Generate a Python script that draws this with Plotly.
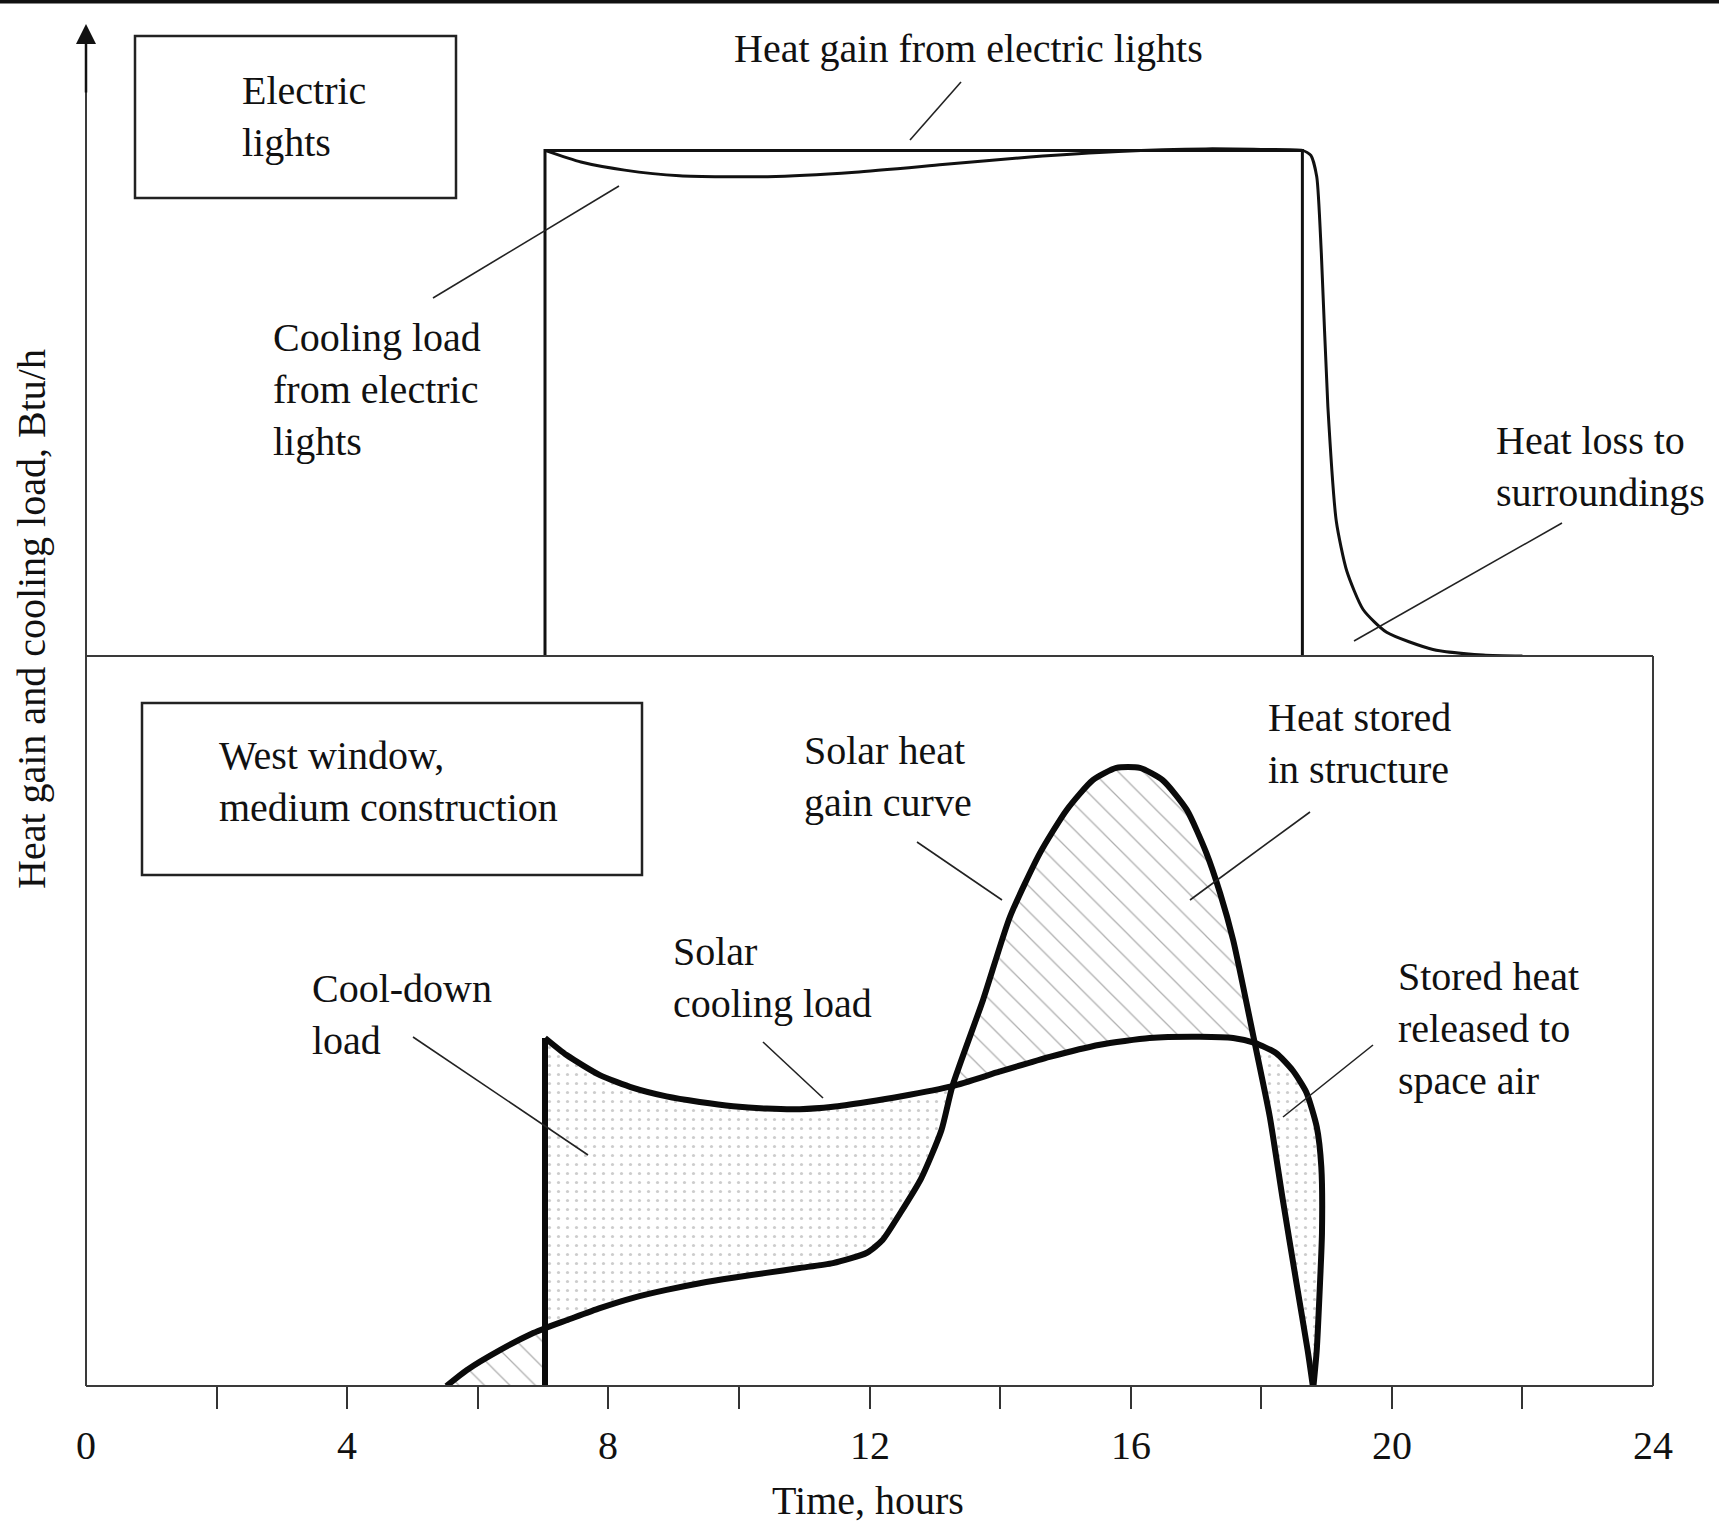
import plotly.graph_objects as go

W, H = 1719, 1525

# ---------------- data (time in hours, loads in relative units) ----------------
tick_hours = [2, 4, 6, 8, 10, 12, 14, 16, 18, 20, 22]
label_hours = [0, 4, 8, 12, 16, 20, 24]
label_text = ["0", "4", "8", "12", "16", "20", "24"]

# lower panel: west window, medium construction
solar_h = [5.52, 5.83, 6.34, 6.85, 7.03, 7.36, 7.87, 8.38, 8.89, 9.40, 9.91, 10.42,
           10.93, 11.44, 11.96, 12.20, 12.47, 12.79, 13.10, 13.27, 13.74, 14.15, 14.61,
           15.02, 15.42, 15.78, 16.14, 16.49, 16.86, 17.16, 17.37, 17.57, 17.90, 18.13,
           18.33, 18.54, 18.71, 18.79]
solar_v = [0, 2.6, 5.9, 8.7, 9.5, 10.8, 12.8, 14.5, 15.8, 16.9, 17.8, 18.6,
           19.4, 20.2, 21.9, 24.0, 28.4, 34.1, 42.0, 49.3, 63.5, 77.1, 87.6,
           94.7, 99.6, 101.6, 101.6, 99.6, 94.7, 87.6, 81.0, 73.3, 56.4, 44.3,
           30.6, 16.9, 5.9, 0]

cool_h = [7.03, 7.36, 7.87, 8.38, 8.89, 9.40, 9.91, 10.42, 10.93, 11.44, 11.96, 12.47,
          13.27, 14.00, 14.76, 15.53, 16.29, 17.06, 17.57, 17.90, 18.23, 18.48, 18.69,
          18.85, 18.92, 18.93, 18.90, 18.85, 18.80]
cool_v = [57.2, 54.4, 51.1, 49.0, 47.6, 46.7, 46.0, 45.6, 45.5, 45.9, 46.7, 47.6,
          49.3, 51.7, 54.1, 56.1, 57.2, 57.4, 57.2, 56.4, 54.7, 51.9, 48.3,
          42.6, 36.0, 25.1, 16.9, 5.9, 0]

cross_1_h = 13.27   # solar gain = cooling load (rising)
cross_2_h = 17.90   # solar gain = cooling load (falling)

# upper panel: electric lights
lights_gain_h = [7.03, 7.03, 18.63, 18.63]
lights_gain_v = [0, 100, 100, 0]
lights_cool_h = [7.03, 7.58, 8.25, 9.09, 10.44, 11.78, 13.12, 14.46, 15.81, 17.15, 18.00,
                 18.63, 18.76, 18.85, 18.92, 19.02, 19.15, 19.31, 19.56, 19.92, 20.63,
                 21.40, 22.00]
lights_cool_v = [100, 97.7, 96.1, 95.0, 94.8, 95.7, 97.2, 98.7, 99.8, 100.3, 100.2,
                 100, 99.0, 94.8, 79.7, 49.4, 26.6, 16.8, 9.2, 4.7, 1.3,
                 0.2, 0]

# ---------------- geometry helpers ----------------
FONT = "Liberation Serif, Times New Roman, serif"
X0, X1 = 86, 1653          # pixel positions of hour 0 and hour 24
Y_BASE, Y_MID, Y_TOP = 1386, 656, 24


def px(x):
    return x / W


def py(y):
    return 1 - y / H


# ---------------- polygons for the shaded regions ----------------
s7 = solar_h.index(cool_h[0])
s1 = solar_h.index(cross_1_h)
s2 = solar_h.index(cross_2_h)
c1 = cool_h.index(cross_1_h)
c2 = cool_h.index(cross_2_h)

cooldown_x = cool_h[:c1 + 1] + solar_h[s7:s1 + 1][::-1]
cooldown_y = cool_v[:c1 + 1] + solar_v[s7:s1 + 1][::-1]
stored_x = solar_h[s1:s2 + 1] + cool_h[c1:c2 + 1][::-1]
stored_y = solar_v[s1:s2 + 1] + cool_v[c1:c2 + 1][::-1]
released_x = cool_h[c2:] + solar_h[s2:][::-1]
released_y = cool_v[c2:] + solar_v[s2:][::-1]
early_x = solar_h[:s7 + 1] + [solar_h[s7]]
early_y = solar_v[:s7 + 1] + [0]

dots = dict(shape=".", fgcolor="#9a9a9a", bgcolor="white", size=9, solidity=0.1)
hatch = dict(shape="\\", fgcolor="#5e5e5e", bgcolor="white", size=18, solidity=0.07)

fig = go.Figure()


def fill_trace(x, y, pattern):
    fig.add_trace(go.Scatter(x=x, y=y, fill="toself", mode="lines",
                             line=dict(width=0, color="rgba(0,0,0,0)"),
                             fillcolor="white", fillpattern=pattern,
                             hoverinfo="skip", xaxis="x", yaxis="y"))


fill_trace(cooldown_x, cooldown_y, dots)
fill_trace(released_x, released_y, dots)
fill_trace(stored_x, stored_y, hatch)
fill_trace(early_x, early_y, hatch)

THICK = dict(color="#0a0a0a", width=6, shape="spline", smoothing=0.6)
fig.add_trace(go.Scatter(x=solar_h, y=solar_v, mode="lines", line=THICK,
                         xaxis="x", yaxis="y", name="Solar heat gain"))
fig.add_trace(go.Scatter(x=cool_h, y=cool_v, mode="lines", line=THICK,
                         xaxis="x", yaxis="y", name="Solar cooling load"))
fig.add_trace(go.Scatter(x=[cool_h[0], cool_h[0]], y=[0, cool_v[0]], mode="lines",
                         line=dict(color="#0a0a0a", width=6),
                         xaxis="x", yaxis="y", name="Cooling load start"))

fig.add_trace(go.Scatter(x=lights_gain_h, y=lights_gain_v, mode="lines",
                         line=dict(color="#111", width=3),
                         xaxis="x", yaxis="y2", name="Heat gain from electric lights"))
fig.add_trace(go.Scatter(x=lights_cool_h, y=lights_cool_v, mode="lines",
                         line=dict(color="#111", width=3, shape="spline", smoothing=0.6),
                         xaxis="x", yaxis="y2", name="Cooling load from electric lights"))

# ---------------- frame, leaders, boxes ----------------
shapes = []
AX = dict(color="#3a3a3a", width=2)
LEAD = dict(color="#222", width=1.6)
BOX = dict(color="#222", width=2.5)


def line(x0, y0, x1, y1, style):
    shapes.append(dict(type="line", xref="paper", yref="paper",
                       x0=px(x0), y0=py(y0), x1=px(x1), y1=py(y1), line=style))


def rect(x0, y0, x1, y1, style):
    shapes.append(dict(type="rect", xref="paper", yref="paper",
                       x0=px(x0), y0=py(y0), x1=px(x1), y1=py(y1), line=style))


# top border of the page
shapes.append(dict(type="rect", xref="paper", yref="paper", x0=0, x1=1,
                   y0=py(3.5), y1=1, line=dict(width=0), fillcolor="#111"))
# axes / lower box
line(X0, Y_BASE, X1, Y_BASE, AX)
line(X0, Y_MID, X1, Y_MID, AX)
line(X1, Y_MID, X1, Y_BASE, AX)
line(X0, Y_BASE, X0, Y_TOP + 20, AX)

# text boxes
rect(135, 36, 456, 198, BOX)
rect(142, 703, 642, 875, BOX)

# leader lines
line(961, 82, 910, 140, LEAD)        # heat gain from electric lights
line(433, 298, 619, 186, LEAD)       # cooling load from electric lights
line(1562, 523, 1354, 641, LEAD)     # heat loss to surroundings
line(917, 842, 1002, 900, LEAD)      # solar heat gain curve
line(1310, 812, 1190, 900, LEAD)     # heat stored in structure
line(763, 1042, 823, 1098, LEAD)     # solar cooling load
line(413, 1037, 588, 1155, LEAD)     # cool-down load
line(1373, 1045, 1283, 1117, LEAD)   # stored heat released

# ---------------- text ----------------
ann = []
TF = dict(family=FONT, size=40, color="#111")


def text(t, x, y, xanchor="left"):
    ann.append(dict(text=t, xref="paper", yref="paper", x=px(x), y=py(y),
                    xanchor=xanchor, yanchor="middle", align="left",
                    showarrow=False, font=TF))


text("Heat gain from electric lights", 732, 49)
text("Electric<br>lights", 240, 116)
text("Cooling load<br>from electric<br>lights", 271, 389)
text("Heat loss to<br>surroundings", 1494, 466)
text("West window,<br>medium construction", 217, 781)
text("Solar heat<br>gain curve", 802, 777)
text("Heat stored<br>in structure", 1266, 743)
text("Solar<br>cooling load", 671, 977)
text("Cool-down<br>load", 310, 1014)
text("Stored heat<br>released to<br>space air", 1396, 1028)
text("Time, hours", 868, 1500, xanchor="center")

for hval, lab in zip(label_hours, label_text):
    ann.append(dict(text=lab, xref="x", yref="paper", x=hval, y=py(1445),
                    xanchor="center", yanchor="middle", showarrow=False, font=TF))

ann.append(dict(text="Heat gain and cooling load, Btu/h", xref="paper", yref="paper",
                x=px(31), y=py(619), textangle=-90, xanchor="center", yanchor="middle",
                showarrow=False, font=TF))

# arrow head on the vertical axis
ann.append(dict(text="", xref="paper", yref="paper", x=px(X0), y=py(Y_TOP),
                ax=0, ay=70, showarrow=True, arrowhead=2, arrowsize=1.6,
                arrowwidth=2.5, arrowcolor="#111"))

fig.update_layout(
    width=W, height=H,
    margin=dict(l=0, r=0, t=0, b=0),
    paper_bgcolor="white", plot_bgcolor="white",
    showlegend=False,
    shapes=shapes, annotations=ann,
    xaxis=dict(domain=[px(X0), px(X1)], range=[0, 24], tickvals=tick_hours,
               showticklabels=False, ticks="outside", ticklen=22, tickwidth=2,
               tickcolor="#333", showgrid=False, zeroline=False, showline=False,
               anchor="y", automargin=False, fixedrange=True),
    yaxis=dict(domain=[py(Y_BASE), py(Y_MID)], range=[0, 120], visible=False,
               showgrid=False, zeroline=False, fixedrange=True),
    yaxis2=dict(domain=[py(Y_MID), py(Y_TOP)], range=[0, 125], visible=False,
                showgrid=False, zeroline=False, anchor="x", fixedrange=True),
)

fig.write_html("out.html",
               config={"displayModeBar": False},
               post_script="document.body.style.margin='0';"
                           "document.body.style.overflow='hidden';")
